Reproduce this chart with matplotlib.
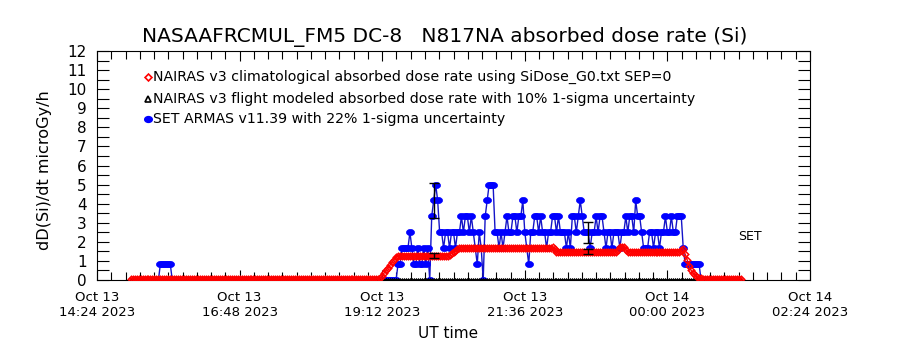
import numpy as np
import matplotlib
matplotlib.use('Agg')
import matplotlib.pyplot as plt
import matplotlib.dates as mdates
from matplotlib.ticker import MultipleLocator
from matplotlib.path import Path
from matplotlib.transforms import Affine2D

# SET ARMAS v11.39 dose rate, one sample every 2 min from 15:24 UT
armas_debut = '2023-10-13T15:24'
armas_vol = [0.83, 0.83, 1.67, 1.67, 1.67, 1.67, 2.5, 1.67, 0.83, 0.83,
             1.67, 0.83, 0.83, 1.67, 0.83, 1.67, 0.0, 3.33, 4.17, 5.0,
             4.17, 2.5, 2.5, 1.67, 2.5, 2.5, 1.67, 2.5, 2.5, 1.67,
             2.5, 2.5, 3.33, 2.5, 3.33, 3.33, 2.5, 3.33, 2.5, 1.67,
             0.83, 2.5, 1.67, 0.0, 3.33, 4.17, 5.0, 5.0, 5.0, 2.5,
             2.5, 1.67, 2.5, 1.67, 2.5, 3.33, 2.5, 2.5, 3.33, 3.33,
             2.5, 3.33, 3.33, 4.17, 2.5, 1.67, 0.83, 2.5, 2.5, 3.33,
             3.33, 2.5, 3.33, 2.5, 2.5, 1.67, 2.5, 2.5, 3.33, 3.33,
             2.5, 3.33, 2.5, 2.5, 2.5, 1.67, 2.5, 1.67, 3.33, 3.33,
             2.5, 3.33, 4.17, 3.33, 2.5, 2.5, 2.5, 1.67, 2.5, 2.5,
             3.33, 2.5, 3.33, 3.33, 2.5, 1.67, 2.5, 2.5, 1.67, 2.5,
             2.5, 2.5, 1.67, 2.5, 2.5, 3.33, 2.5, 3.33, 3.33, 2.5,
             4.17, 3.33, 3.33, 2.5, 1.67, 1.67, 1.67, 2.5, 2.5, 1.67,
             2.5, 2.5, 1.67, 2.5, 2.5, 3.33, 2.5, 2.5, 3.33, 2.5,
             2.5, 3.33, 3.33, 3.33, 1.67, 0.83, 0.83, 0.83, 0.83, 0.83,
             0.83, 0.83, 0.83, 0.0]
armas = [0.0, 0.0] + [0.83] * 6 + [0.0] * 114 + armas_vol + [0.0] * 3

# NAIRAS v3 climatologique (SiDose_G0, SEP=0), un point toutes les 2 min depuis 14:58 UT
clim_debut = '2023-10-13T14:58'
clim = ([0.07] * 126 + [0.09, 0.23, 0.37, 0.51, 0.65, 0.79, 0.93, 1.07, 1.21]
        + [1.28] * 26 + [1.32, 1.42, 1.45, 1.5, 1.6]
        + [1.7] * 47 + [1.74, 1.6]
        + [1.49] * 31 + [1.58, 1.72, 1.75, 1.72, 1.58]
        + [1.49] * 27 + [1.55, 1.6]
        + [1.35, 1.05, 0.75, 0.5, 0.35, 0.25, 0.17, 0.12, 0.09]
        + [0.07] * 20)
# NAIRAS v3 modele vol : a zero sur tout le trajet
modele = [0.0] * len(clim)

# instants ou les barres d'erreur sont tracees
err_heures = ['2023-10-13T20:04', '2023-10-13T22:40']

pas = np.timedelta64(2, 'm')
armas_t = np.datetime64(armas_debut) + np.arange(len(armas)) * pas
clim_t = np.datetime64(clim_debut) + np.arange(len(clim)) * pas
err_t = np.array(err_heures, dtype='datetime64[m]')
armas_err = np.array([armas[(h - np.datetime64(armas_debut)) // pas] for h in err_t])
clim_err = np.array([clim[(h - np.datetime64(clim_debut)) // pas] for h in err_t])

# rond un peu aplati comme le symbole IDL
ellipse = Path.unit_circle().transformed(Affine2D().scale(1.3, 1.0))

plt.rcParams['font.family'] = 'DejaVu Sans'

fig = plt.figure(figsize=(9, 3.5), dpi=100)
ax = fig.add_axes([97 / 900, 70 / 350, 713 / 900, 229 / 350])

ax.plot(armas_t, armas, color='#1414c8', lw=1, marker=ellipse, ms=5.8,
        mfc='#0000ff', mec='#0000ff', mew=0.5, zorder=2)
ax.plot(clim_t, modele, color='black', lw=2, marker='^', ms=3,
        mfc='none', mec='black', mew=0.6, zorder=3)
ax.plot(clim_t, clim, color='red', lw=1, marker='D', ms=3.3,
        mfc='none', mec='red', mew=1.1, zorder=4)
ax.errorbar(err_t, armas_err, yerr=0.22 * armas_err, fmt='none',
            ecolor='black', elinewidth=1, capsize=3.5, zorder=5)
ax.errorbar(err_t, clim_err, yerr=0.10 * clim_err, fmt='none',
            ecolor='black', elinewidth=1, capsize=3.5, zorder=5)

ax.set_xlim(np.datetime64('2023-10-13T14:24'), np.datetime64('2023-10-14T02:24'))
ax.set_ylim(0, 12)

ax.xaxis.set_major_locator(MultipleLocator(0.1))
ax.xaxis.set_minor_locator(MultipleLocator(0.01))
ax.xaxis.set_major_formatter(mdates.DateFormatter('%b %d\n%H:%M %Y'))
ax.yaxis.set_major_locator(MultipleLocator(1))
ax.yaxis.set_minor_locator(MultipleLocator(0.5))

ax.tick_params(axis='both', which='both', direction='in', top=True, right=True,
               width=0.8)
ax.tick_params(axis='x', which='major', length=7, pad=8, labelsize=9.5)
ax.tick_params(axis='x', which='minor', length=5.5)
ax.tick_params(axis='y', which='both', length=8.5, pad=7.5, labelsize=11)
for s in ax.spines.values():
    s.set_linewidth(0.8)

ax.set_xlabel('UT time', fontsize=11)
ax.xaxis.set_label_coords(0.492, -0.2)
ax.set_ylabel('dD(Si)/dt microGy/h', fontsize=11.6)
ax.yaxis.set_label_coords(-0.063, 0.48)

fig.text(445 / 900, 1 - 37 / 350, 'NASAAFRCMUL_FM5 DC-8   N817NA absorbed dose rate (Si)',
         ha='center', va='center', fontsize=14.5)

# legende faite a la main comme dans IDL
leg_y = [0.886, 0.790, 0.703]
leg_txt = ['NAIRAS v3 climatological absorbed dose rate using SiDose_G0.txt SEP=0',
           'NAIRAS v3 flight modeled absorbed dose rate with 10% 1-sigma uncertainty',
           'SET ARMAS v11.39 with 22% 1-sigma uncertainty']
ax.plot([0.0715], [leg_y[0]], transform=ax.transAxes, marker='D', ms=3.5,
        mfc='none', mec='red', mew=1.2)
ax.plot([0.0715], [leg_y[1]], transform=ax.transAxes, marker='^', ms=4.5,
        mfc='none', mec='black', mew=1.2)
ax.plot([0.0715], [leg_y[2]], transform=ax.transAxes, marker=ellipse, ms=5.5,
        mfc='#0000ff', mec='#0000ff')
for y, t in zip(leg_y, leg_txt):
    ax.text(0.0785, y, t, transform=ax.transAxes, va='center', fontsize=10.2)

ax.text(0.899, 0.188, 'SET', transform=ax.transAxes, va='center', ha='left', fontsize=9)

plt.savefig('out.png', dpi=100)
